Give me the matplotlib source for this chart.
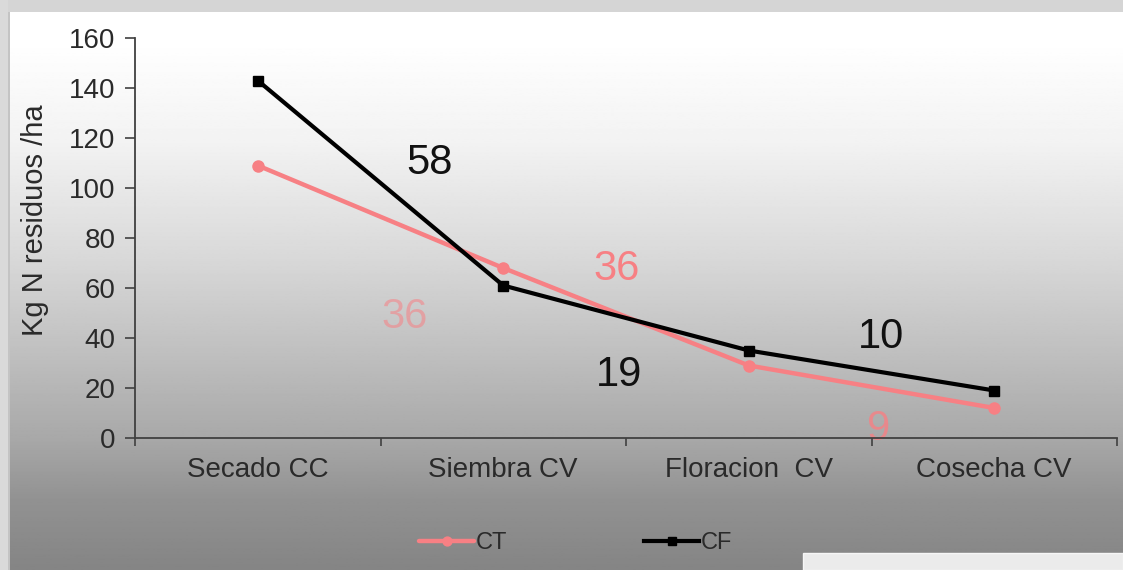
import numpy as np
import matplotlib
matplotlib.use("Agg")
import matplotlib.pyplot as plt
from matplotlib.patches import Rectangle

# Data
categories = ["Secado CC", "Siembra CV", "Floracion  CV", "Cosecha CV"]
ct_values = [109, 68, 29, 12]
cf_values = [143, 61, 35, 19]
yticks = [0, 20, 40, 60, 80, 100, 120, 140, 160]

# Difference labels placed between stages
ct_diffs = ["36", "36", "9"]
cf_diffs = ["58", "19", "10"]

FONT = "Liberation Sans"
PINK = "#f78084"

W, H = 1123, 570
fig = plt.figure(figsize=(W / 100, H / 100), dpi=100)

# Vertical gradient backdrop
bg = fig.add_axes([0, 0, 1, 1], zorder=-10)
bg.set_axis_off()
ys = np.linspace(0, 1, 400)  # 0 = top, 1 = bottom
stops_y = [0.0, 0.07, 0.25, 0.45, 0.62, 0.77, 0.88, 1.0]
stops_v = [1.0, 1.0, 0.95, 0.85, 0.75, 0.66, 0.57, 0.52]
vals = np.interp(ys, stops_y, stops_v)
grad = np.repeat(vals[:, None], 2, axis=1)
bg.imshow(grad, cmap="gray", vmin=0, vmax=1, aspect="auto",
          extent=[0, 1, 0, 1], origin="upper")
bg.set_xlim(0, 1)
bg.set_ylim(0, 1)
# frame strips and the small box in the lower right corner
bg.add_patch(Rectangle((0, 1 - 12 / H), 1, 12 / H, color="#d5d5d5", lw=0))
bg.add_patch(Rectangle((0, 0), 8 / W, 1, color="#dadada", lw=0))
bg.add_patch(Rectangle((8 / W, 0), 2 / W, 1 - 12 / H, color="#c4c4c4", lw=0))
bg.add_patch(Rectangle((803 / W, 0), 1 - 803 / W, 17 / H,
                       facecolor="#ebebeb", edgecolor="#f6f6f6", lw=1))

# Main axes
left, right = 135 / W, 1117 / W
bottom, top = 1 - 438 / H, 1 - 38 / H
ax = fig.add_axes([left, bottom, right - left, top - bottom])
ax.patch.set_alpha(0)

x = np.arange(len(categories)) + 0.5
ax.plot(x, ct_values, color=PINK, lw=3.2, marker="o", ms=8,
        label="CT", zorder=3, solid_capstyle="round")
ax.plot(x, cf_values, color="black", lw=3.0, marker="s", ms=7,
        label="CF", zorder=4)

ax.set_xlim(0, len(categories))
ax.set_ylim(0, 160)
ax.set_yticks(yticks)
ax.set_yticklabels([str(v) for v in yticks], fontsize=20, family=FONT,
                   color="#2a2a2a")
ax.set_xticks(np.arange(len(categories) + 1))
ax.set_xticklabels([])
ax.set_xticks(x, minor=True)
ax.set_xticklabels(categories, minor=True, fontsize=20, family=FONT,
                   color="#2a2a2a")
ax.tick_params(axis="x", which="minor", length=0, pad=14)
ax.tick_params(axis="x", which="major", length=6, direction="out",
               color="#404040", width=1.2)
ax.tick_params(axis="y", length=7, direction="out", color="#404040",
               width=1.2, pad=7)
for s in ["top", "right"]:
    ax.spines[s].set_visible(False)
for s in ["left", "bottom"]:
    ax.spines[s].set_color("#404040")
    ax.spines[s].set_linewidth(1.3)

ax.set_ylabel("Kg N residuos /ha", fontsize=21, family=FONT,
              color="#2a2a2a")
ax.yaxis.set_label_coords(-(135 - 49) / (1117 - 135), (438 - 220) / 400)

# Difference annotations
ax.text(1.2, 110, cf_diffs[0], fontsize=30, family=FONT, color="#111111",
        ha="center", va="center")
ax.text(1.1, 48.5, ct_diffs[0], fontsize=30, family=FONT, color=PINK,
        alpha=0.55, ha="center", va="center")
ax.text(1.96, 67.5, ct_diffs[1], fontsize=30, family=FONT, color=PINK,
        ha="center", va="center")
ax.text(1.97, 25, cf_diffs[1], fontsize=30, family=FONT, color="#111111",
        ha="center", va="center")
ax.text(3.04, 40.5, cf_diffs[2], fontsize=30, family=FONT, color="#111111",
        ha="center", va="center")
ax.text(3.03, 3.5, ct_diffs[2], fontsize=30, family=FONT, color=PINK,
        alpha=0.8, ha="center", va="center", zorder=1)

leg = fig.legend(loc="center", bbox_to_anchor=(576 / W, 1 - 543 / H),
                 ncol=2, frameon=False, prop={"family": FONT, "size": 17},
                 handlelength=2.3, handletextpad=0.1, columnspacing=5.8,
                 markerscale=0.8)
for t in leg.get_texts():
    t.set_color("#2a2a2a")

fig.savefig("out.png", dpi=100)
